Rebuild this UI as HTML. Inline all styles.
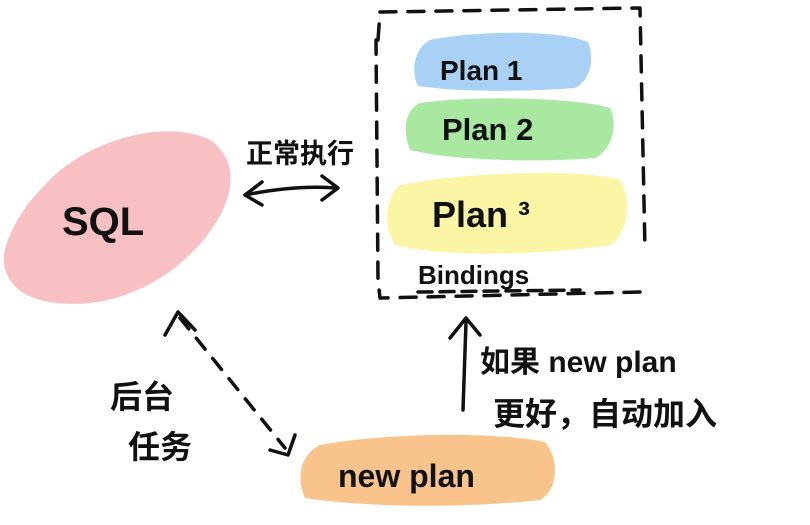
<!DOCTYPE html>
<html><head><meta charset="utf-8"><style>
html,body{margin:0;padding:0;background:#fff;width:810px;height:525px;overflow:hidden}
text{font-family:"Liberation Sans","Noto Sans CJK SC",sans-serif;fill:#111;font-weight:bold}
</style></head><body>
<svg width="810" height="525" viewBox="0 0 810 525" xmlns="http://www.w3.org/2000/svg">
<path d="M45 185 C85 140 165 118 210 140 C240 160 236 200 205 238 C170 282 110 312 50 302 C10 296 -4 268 8 240 C18 215 30 200 45 185 Z" fill="#f8c0c3"/>
<path d="M430 40 C480 30 560 30 588 42 C595 60 590 80 575 88 C520 92 460 92 418 86 C410 70 415 48 430 40 Z" fill="#a9d0f5"/>
<path d="M420 103 C480 95 580 98 610 108 C618 125 612 150 595 158 C530 163 450 160 410 150 C402 130 405 110 420 103 Z" fill="#a8e8a0"/>
<path d="M400 185 C470 172 580 168 620 180 C632 200 628 230 612 245 C540 255 450 258 395 245 C382 225 385 198 400 185 Z" fill="#fbf5a6"/>
<path d="M320 445 C390 432 500 432 545 442 C560 460 558 490 540 500 C470 508 370 508 305 498 C296 478 300 455 320 445 Z" fill="#f9c38c"/>
<g stroke="#111" stroke-width="3.5" fill="none" stroke-linecap="round" stroke-linejoin="round">
<path d="M378 40 L380 12 L640 8 L645 250 M640 292 L380 298 L378 280 L376 40" stroke-dasharray="16 12"/>
<path d="M418 292 L580 290" stroke-dasharray="14 8"/>
<path d="M245 195 C280 188 310 186 335 188"/>
<path d="M262 182 L245 195 L262 205"/>
<path d="M322 176 L338 188 L322 200"/>
<path d="M180 318 L285 448" stroke-dasharray="14 12"/>
<path d="M165 335 L178 312 L195 330"/>
<path d="M270 450 L288 455 L295 435"/>
<path d="M463 410 L466 322"/>
<path d="M450 338 L466 318 L480 335"/>
</g>
<text x="62" y="235" font-size="40">SQL</text>
<text x="440" y="80" font-size="28">Plan 1</text>
<text x="442" y="140" font-size="31">Plan 2</text>
<text x="432" y="227" font-size="36">Plan ³</text>
<text x="418" y="284" font-size="26">Bindings</text>
<text x="338" y="487" font-size="32">new plan</text>
<text x="246" y="163" font-size="27">正常执行</text>
<text x="110" y="408" font-size="32">后台</text>
<text x="128" y="458" font-size="32">任务</text>
<text x="480" y="372" font-size="30">如果 new plan</text>
<text x="493" y="425" font-size="32">更好，自动加入</text>
</svg>
</body></html>
